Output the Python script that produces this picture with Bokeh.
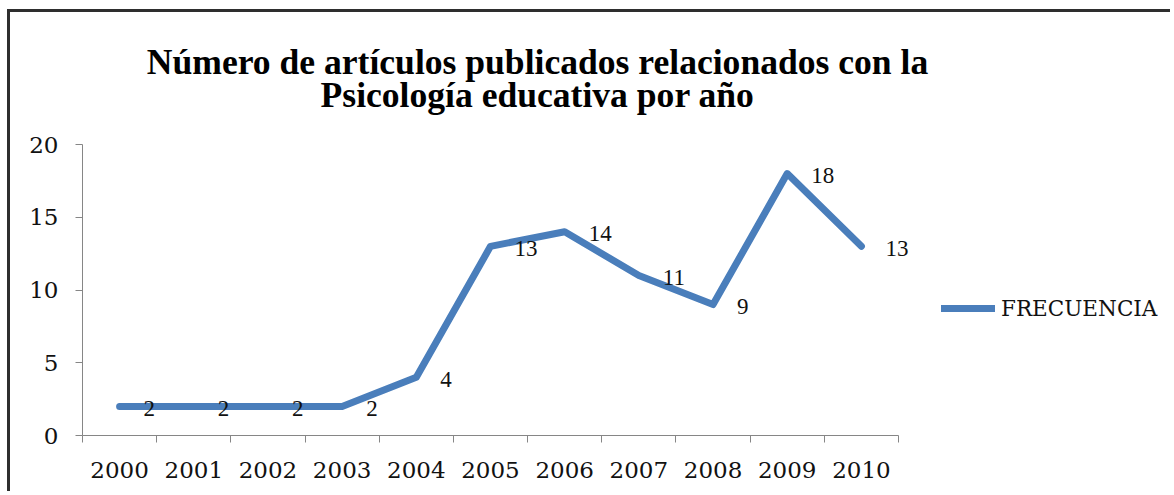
from bokeh.plotting import figure
from bokeh.models import (Range1d, FixedTicker, ColumnDataSource, LabelSet, Label,
                          Legend, LegendItem)
from bokeh.embed import file_html
from bokeh.resources import INLINE

# ---- data ----
years = ["2000", "2001", "2002", "2003", "2004", "2005", "2006", "2007", "2008", "2009", "2010"]
freq = [2, 2, 2, 2, 4, 13, 14, 11, 9, 18, 13]
y_ticks = [0, 5, 10, 15, 20]
y_max = 20
title_lines = ["Número de artículos publicados relacionados con la",
               "Psicología educativa por año"]
series_name = "FRECUENCIA"

# ---- styles ----
LINE_COLOR = "#4A7EBB"
AXIS_COLOR = "#868686"
TXT = "#111111"
FONT = "DejaVu Serif"
TFONT = "Liberation Serif"

W, H = 1163, 482
LEFT, BOTTOM = 72, 59
n = len(years)
xs = [i + 0.5 for i in range(n)]

px_per_x = 816 / n          # category width in px
px_per_y = 291 / y_max      # px per unit
frame_w = W - LEFT
frame_h = H - BOTTOM

p = figure(width=W, height=H,
           x_range=Range1d(0, frame_w / px_per_x),
           y_range=Range1d(0, frame_h / px_per_y),
           output_backend="svg", toolbar_location=None,
           min_border_left=LEFT, min_border_right=0,
           min_border_top=0, min_border_bottom=BOTTOM,
           outline_line_color=None,
           background_fill_color="white", border_fill_color="white")
p.styles = {"margin-left": "7px", "margin-top": "9px",
            "border-top": "3px solid #2e2e2e", "border-left": "3px solid #2e2e2e"}
p.grid.visible = False

# x axis: labels at category centres, ticks at category boundaries
xa = p.xaxis[0]
xa.bounds = (0, n)
xa.ticker = FixedTicker(ticks=xs, minor_ticks=list(range(n + 1)))
xa.major_label_overrides = {x: y for x, y in zip(xs, years)}
xa.major_tick_line_color = None
xa.major_tick_out = 0
xa.major_tick_in = 0
xa.minor_tick_line_color = AXIS_COLOR
xa.minor_tick_out = 7
xa.minor_tick_in = 0
xa.axis_line_color = AXIS_COLOR
xa.major_label_text_font = FONT
xa.major_label_text_font_size = "23px"
xa.major_label_text_color = TXT
xa.major_label_standoff = 19

ya = p.yaxis[0]
ya.bounds = (0, y_max)
ya.ticker = FixedTicker(ticks=y_ticks)
ya.major_tick_out = 7
ya.major_tick_in = 0
ya.major_tick_line_color = AXIS_COLOR
ya.minor_tick_line_color = None
ya.axis_line_color = AXIS_COLOR
ya.major_label_text_font = FONT
ya.major_label_text_font_size = "23px"
ya.major_label_text_color = TXT
ya.major_label_standoff = 17

r = p.line(xs, freq, line_width=7, line_color=LINE_COLOR,
           line_cap="round", line_join="round")

src = ColumnDataSource(dict(x=xs, y=freq, t=[str(v) for v in freq]))
p.add_layout(LabelSet(x="x", y="y", text="t", source=src,
                      x_offset=24, y_offset=-2,
                      text_align="left", text_baseline="middle",
                      text_font=FONT, text_font_size="23px", text_color=TXT))

# title (two centred lines, above the plotting area)
tx = (527 - LEFT) / px_per_x
for line_text, base in zip(title_lines, [49, 82]):
    p.add_layout(Label(x=tx, y=(frame_h - base) / px_per_y, text=line_text,
                       text_align="center", text_baseline="alphabetic",
                       text_font=TFONT, text_font_style="bold",
                       text_font_size="35.6px", text_color="#000000"))

legend = Legend(items=[LegendItem(label=series_name, renderers=[r])],
                location=(859, 114), glyph_width=54, glyph_height=26,
                label_standoff=6, padding=0, margin=0, spacing=0,
                border_line_color=None, background_fill_alpha=0,
                label_text_font=FONT, label_text_font_size="21.5px",
                label_text_color=TXT)
p.add_layout(legend)

open("out.html", "w").write(file_html(p, INLINE))
